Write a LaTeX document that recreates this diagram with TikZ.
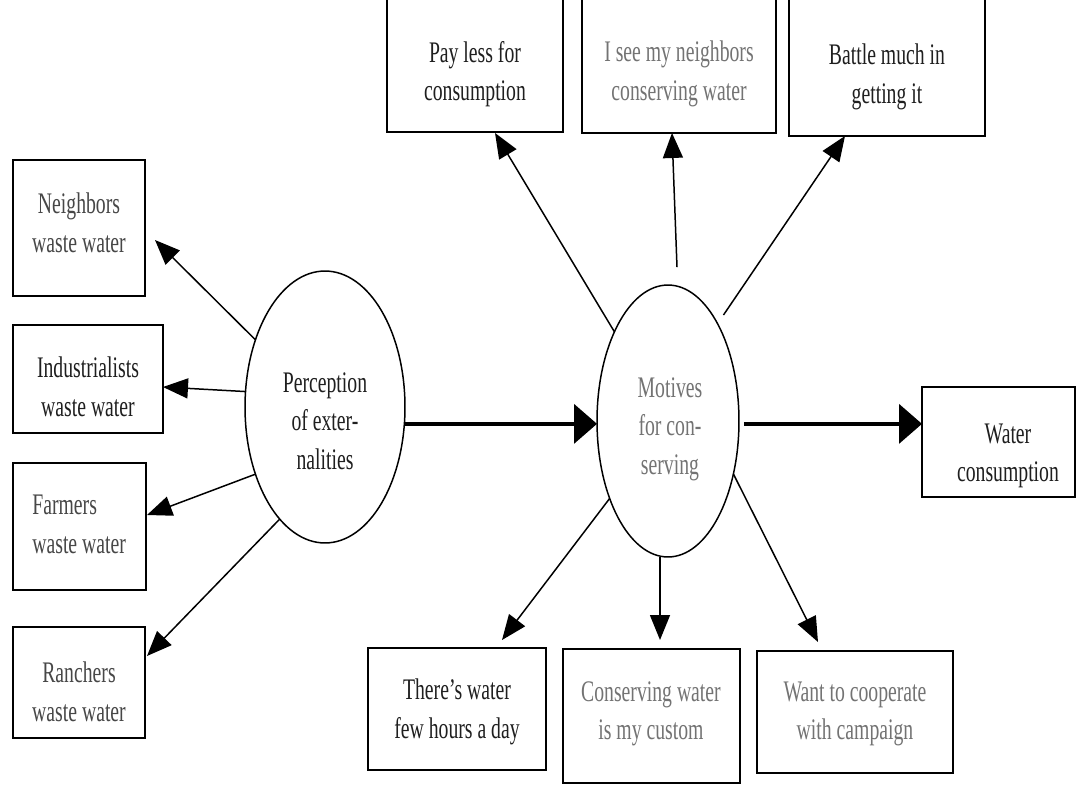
\documentclass[tikz,border=0pt]{standalone}
\usepackage{fontspec}
\setmainfont{Liberation Serif}[FakeStretch=0.66]
\usetikzlibrary{arrows.meta,shapes.geometric,calc}
\begin{document}
\begin{tikzpicture}[x=0.02cm,y=-0.02cm,
  box/.style={draw,line width=0.9pt,inner sep=0pt,outer sep=0pt},
  oval/.style={ellipse,draw,line width=0.85pt,inner sep=0pt,outer sep=0pt},
  txt/.style={font=\fontsize{17}{22}\selectfont,align=center,inner sep=0pt},
  tdark/.style={text=black!88},
  tmid/.style={text=black!72},
  tlight/.style={text=black!55},
  arr/.style={line width=0.85pt,-{Triangle[length=0.5cm,width=0.4cm]}},
  bigarr/.style={line width=0.08cm,-{Triangle[length=0.46cm,width=0.78cm]}}]
\path[use as bounding box] (0,0) rectangle (1086,801);
\fill[white] (0,0) rectangle (1086,801);
\clip (0,0) rectangle (1086,801);

% boxes
\node[box,minimum width=2.64cm,minimum height=2.72cm] (nb) at (79,228) {};
\node[box,minimum width=3.0cm,minimum height=2.16cm] (ind) at (88,379) {};
\node[box,minimum width=2.66cm,minimum height=2.54cm] (far) at (79.5,526.5) {};
\node[box,minimum width=2.64cm,minimum height=2.22cm] (ran) at (79,682.5) {};
\node[box,minimum width=3.52cm,minimum height=3.04cm] (pay) at (475,56) {};
\node[box,minimum width=3.88cm,minimum height=3.06cm] (see) at (679,56.5) {};
\node[box,minimum width=3.92cm,minimum height=3.12cm] (bat) at (887,58) {};
\node[box,minimum width=3.06cm,minimum height=2.2cm] (wat) at (998.5,442) {};
\node[box,minimum width=3.56cm,minimum height=2.44cm] (thr) at (457,709) {};
\node[box,minimum width=3.54cm,minimum height=2.68cm] (con) at (651.5,716) {};
\node[box,minimum width=3.92cm,minimum height=2.44cm] (wan) at (855,712) {};

% ellipses
\node[oval,minimum width=3.2cm,minimum height=5.44cm] (per) at (325,407) {};
\node[oval,minimum width=2.84cm,minimum height=5.44cm] (mot) at (668,421) {};

% texts
\node[txt,tmid] (nbt) at (79,222.5) {Neighbors\\waste water};
\node[txt,tdark] (indt) at (88,386.5) {Industrialists\\waste water};
\node[txt,tmid,anchor=west,align=left] (fart) at (32,524.5) {Farmers\\waste water};
\node[txt,tmid] (rant) at (79,691.5) {Ranchers\\waste water};
\node[txt,tdark] (payt) at (475,74) {Pay less for\\consumption};
\node[txt,tlight] (seet) at (679,74) {I see my neighbors\\conserving water};
\node[txt,tdark] (batt) at (887,77) {Battle much in\\getting it};
\node[txt,tdark] (watt) at (1008,456) {Water\\consumption};
\node[txt,tdark] (thrt) at (457,712) {There’s water\\few hours a day};
\node[txt,tlight] (cont) at (651,714) {Conserving water\\is my custom};
\node[txt,tlight] (want) at (855,714) {Want to cooperate\\with campaign};
\node[txt,tdark] (pert) at (325,421) {Perception\\of exter-\\nalities};
\node[txt,tlight] (mott) at (670,429) {Motives\\for con-\\serving};

% connectors from Perception
\draw[arr] (per.136) -- ($(nb.east)+(10,12)$);
\draw[arr] (per.169) -- ($(ind.east)+(0,8)$);
\draw[arr] (per.224) -- ($(far.east)+(1,-11.5)$);
\draw[arr] (per.248) -- ($(ran.east)+(2,-26.5)$);
\draw[bigarr] (per.-12) -- (per.-12 -| mot.west);
\draw[bigarr,shorten <=0.1cm] (per.-12 -| mot.east) -- (per.-12 -| wat.west);

% connectors from Motives
\coordinate (cs) at ($(mot.south)+(-8,0)$);
\draw[arr] (mot.121) -- ($(pay.south)+(20,1)$);
\draw[arr] ($(mot.north)+(9,-18)$) -- ($(see.south)+(-7,0)$);
\draw[arr,shorten <=0.21cm] (mot.63) -- ($(bat.south)+(-42,0)$);
\draw[arr] (mot.233) -- ($(thr.north)+(45,-8)$);
\draw[arr,shorten >=0.18cm] (cs) -- (cs |- con.north);
\draw[arr] (mot.-39) -- ($(wan.north)+(-37,-9)$);
\end{tikzpicture}
\end{document}
